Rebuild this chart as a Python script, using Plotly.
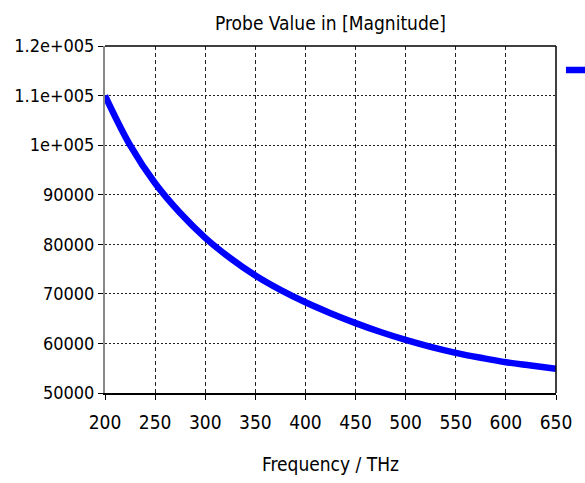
import plotly.graph_objects as go

freq = [200, 225, 250, 275, 300, 325, 350, 375, 400, 425, 450, 475, 500, 525, 550, 575, 600, 625, 650]
magnitude = [110000, 100000, 92300, 86300, 81300, 77200, 73700, 70800, 68300, 66100, 64100,
             62300, 60700, 59300, 58100, 57100, 56200, 55550, 54900]

x_ticks = [200, 250, 300, 350, 400, 450, 500, 550, 600, 650]
y_ticks = [50000, 60000, 70000, 80000, 90000, 100000, 110000, 120000]
y_tick_text = ["50000", "60000", "70000", "80000", "90000", "1e+005", "1.1e+005", "1.2e+005"]

FONT = "DejaVu Sans Condensed, Liberation Sans Narrow, sans-serif"

fig = go.Figure()
fig.add_trace(go.Scatter(
    x=freq, y=magnitude, mode="lines", line=dict(color="#0000ff", width=6.5, shape="spline"),
    name=" ", showlegend=True,
))

fig.update_layout(
    width=585, height=483,
    margin=dict(l=105, r=29, t=46, b=90, autoexpand=False),
    paper_bgcolor="white", plot_bgcolor="white",
    font=dict(family=FONT, size=19, color="black"),
    title=dict(text="Probe Value in [Magnitude]", x=0.565, xanchor="center", y=0.965, yanchor="top",
               font=dict(family=FONT, size=19, color="black")),
    legend=dict(x=1.011, y=0.931, xanchor="left", yanchor="middle", bgcolor="rgba(0,0,0,0)",
                font=dict(size=12)),
    xaxis=dict(range=[200, 650], tickvals=x_ticks, showgrid=True, gridcolor="#222222", gridwidth=1,
               griddash="4px,3px", showline=True, linecolor="black", linewidth=1.5, ticks="outside",
               ticklen=5, tickcolor="black", zeroline=False, tickfont=dict(size=19),
               ticklabelstandoff=6,
               title=dict(text="Frequency / THz", standoff=26, font=dict(size=19))),
    yaxis=dict(range=[50000, 120000], tickvals=y_ticks, ticktext=y_tick_text, showgrid=True,
               gridcolor="#222222", gridwidth=1, griddash="2px,2px", showline=True, linecolor="#888888",
               linewidth=2, ticks="outside", ticklen=5, tickcolor="black", zeroline=False,
               tickfont=dict(size=18)),
    shapes=[
        dict(type="line", xref="paper", yref="paper", x0=0, x1=1, y0=1, y1=1,
             line=dict(color="black", width=1.5)),
        dict(type="line", xref="paper", yref="paper", x0=1, x1=1, y0=0, y1=1,
             line=dict(color="black", width=1.5)),
    ],
)

fig.write_html("out.html")
